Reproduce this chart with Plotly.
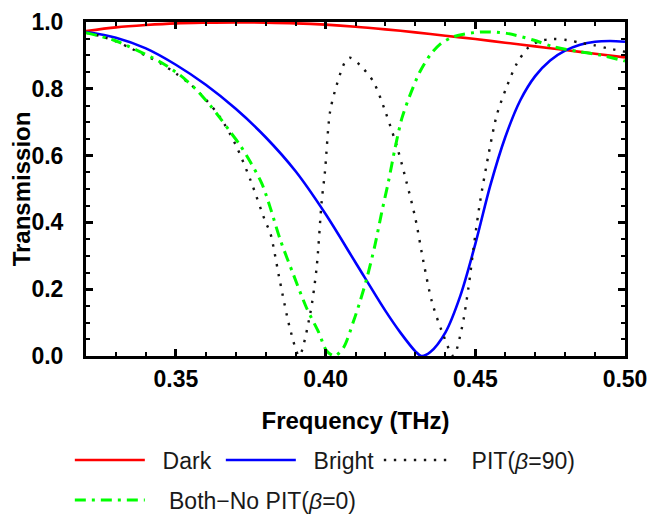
import plotly.graph_objects as go

# ---- data ----
dark_f = [0.32, 0.33, 0.34, 0.35, 0.36, 0.37, 0.38, 0.39, 0.40, 0.41, 0.42, 0.43, 0.44, 0.45, 0.46, 0.47, 0.48, 0.49, 0.50]
dark_t = [0.973, 0.984, 0.991, 0.996, 0.998, 0.999, 0.998, 0.996, 0.992, 0.986, 0.978, 0.969, 0.959, 0.949, 0.938, 0.927, 0.916, 0.905, 0.894]

bright_f = [0.32, 0.33, 0.34, 0.35, 0.36, 0.37, 0.38, 0.39, 0.40, 0.41, 0.42, 0.425, 0.43, 0.432, 0.435,
            0.44, 0.445, 0.45, 0.455, 0.46, 0.465, 0.47, 0.475, 0.48, 0.485, 0.49, 0.495, 0.50]
bright_t = [0.970, 0.953, 0.921, 0.872, 0.812, 0.740, 0.655, 0.553, 0.425, 0.280, 0.135, 0.070, 0.014, 0.0, 0.012,
            0.070, 0.180, 0.335, 0.510, 0.655, 0.765, 0.838, 0.885, 0.914, 0.932, 0.941, 0.943, 0.941]

pit_f = [0.32, 0.325, 0.33, 0.335, 0.34, 0.345, 0.35, 0.355, 0.36, 0.365, 0.37, 0.375, 0.38, 0.3815, 0.3848,
         0.3881, 0.3912, 0.3948, 0.397, 0.3987, 0.3998, 0.4015, 0.4037, 0.4065, 0.4082, 0.4115, 0.416, 0.42,
         0.424, 0.427, 0.43, 0.4327, 0.4355, 0.4388, 0.4427, 0.4455, 0.4477, 0.4494, 0.4516, 0.4544, 0.4572,
         0.4605, 0.4639, 0.4678, 0.4716, 0.4761, 0.4806, 0.485, 0.4895, 0.4939, 0.50]
pit_t = [0.968, 0.957, 0.942, 0.921, 0.899, 0.876, 0.846, 0.812, 0.768, 0.712, 0.632, 0.525, 0.400, 0.370, 0.222,
         0.083, 0.0, 0.123, 0.263, 0.462, 0.552, 0.731, 0.811, 0.880, 0.893, 0.871, 0.821, 0.731,
         0.622, 0.522, 0.412, 0.282, 0.163, 0.075, 0.0, 0.083, 0.203, 0.322, 0.462, 0.602, 0.722,
         0.806, 0.876, 0.924, 0.943, 0.949, 0.946, 0.938, 0.931, 0.922, 0.911]

both_f = [0.32, 0.3291, 0.3369, 0.3447, 0.3514, 0.357, 0.3614, 0.3648, 0.3681, 0.3714, 0.3748, 0.3787, 0.3815,
          0.3848, 0.3893, 0.3937, 0.3976, 0.4004, 0.403, 0.406, 0.4093, 0.4115, 0.4138, 0.4165, 0.4188, 0.421,
          0.4232, 0.4255, 0.4282, 0.4315, 0.4349, 0.4382, 0.4427, 0.4516, 0.4605, 0.4694, 0.4761, 0.485, 0.4917, 0.50]
both_t = [0.968, 0.946, 0.916, 0.881, 0.841, 0.796, 0.751, 0.712, 0.672, 0.632, 0.582, 0.517, 0.445,
          0.350, 0.243, 0.143, 0.073, 0.015, 0.0, 0.025, 0.103, 0.163, 0.233, 0.332, 0.432, 0.522,
          0.622, 0.712, 0.781, 0.851, 0.901, 0.933, 0.956, 0.970, 0.966, 0.946, 0.926, 0.911, 0.901, 0.883]

x_ticks = [0.35, 0.40, 0.45, 0.50]
x_labels = ["0.35", "0.40", "0.45", "0.50"]
y_ticks = [0.0, 0.2, 0.4, 0.6, 0.8, 1.0]
y_labels = ["0.0", "0.2", "0.4", "0.6", "0.8", "1.0"]

NB = "\u00a0"
FONT = "Liberation Sans, Arial, sans-serif"

fig = go.Figure()
fig.add_trace(go.Scatter(x=dark_f, y=dark_t, mode="lines", name=NB * 2 + "Dark", legend="legend",
                         legendwidth=66,
                         line=dict(color="rgb(255,0,0)", width=2.6, shape="spline", smoothing=0.9)))
fig.add_trace(go.Scatter(x=bright_f, y=bright_t, mode="lines", name=NB * 2 + "Bright", legend="legend",
                         legendwidth=73,
                         line=dict(color="rgb(0,0,255)", width=2.6, shape="spline", smoothing=0.9)))
fig.add_trace(go.Scatter(x=pit_f, y=pit_t, mode="lines", name=NB * 2 + "PIT(<i>β</i>=90)", legend="legend",
                         legendwidth=125,
                         line=dict(color="rgb(20,20,20)", width=2.4, dash="2.4px,7.6px", shape="spline", smoothing=0.8)))
fig.add_trace(go.Scatter(x=both_f, y=both_t, mode="lines", name=NB * 3 + "Both\u2212No PIT(<i>β</i>=0)", legend="legend2",
                         line=dict(color="rgb(0,255,0)", width=3, dash="11px,6px,3px,6px", shape="spline", smoothing=0.8)))

axis_common = dict(
    showline=True, linecolor="black", linewidth=3, mirror="allticks",
    ticks="inside", ticklen=7, tickwidth=2.5, tickcolor="black",
    showgrid=False, zeroline=False,
    tickfont=dict(family=FONT, size=23, color="black", weight="bold"),
)

fig.update_xaxes(
    range=[0.32, 0.50], tickvals=x_ticks, ticktext=x_labels,
    minor=dict(dtick=0.01, tick0=0.32, ticks="inside", ticklen=4, tickwidth=2, tickcolor="black", showgrid=False),
    title=dict(text="<b>Frequency (THz)</b>", standoff=22, font=dict(family=FONT, size=24, color="black")),
    ticklabelstandoff=0,
    **axis_common,
)
fig.update_yaxes(
    range=[0.0, 1.0], tickvals=y_ticks, ticktext=y_labels,
    minor=dict(dtick=0.05, tick0=0.0, ticks="inside", ticklen=4, tickwidth=2, tickcolor="black", showgrid=False),
    ticklabelstandoff=15,
    **axis_common,
)

fig.add_annotation(text="<b>Transmission</b>", textangle=-90, xref="paper", yref="paper",
                   x=-0.12, y=0.5, xanchor="center", yanchor="middle", showarrow=False,
                   font=dict(family=FONT, size=24, color="black"))

legend_common = dict(orientation="h", x=-0.03, xanchor="left", yanchor="top",
                     font=dict(family=FONT, size=23, color="rgb(25,25,25)"),
                     itemwidth=70, bgcolor="rgba(0,0,0,0)", tracegroupgap=0)

fig.update_layout(
    width=652, height=518,
    margin=dict(l=86, r=27, t=22, b=162, autoexpand=False),
    paper_bgcolor="white", plot_bgcolor="white",
    showlegend=True,
    legend=dict(y=-0.247, **legend_common),
    legend2=dict(y=-0.367, **legend_common),
)

fig.write_html("out.html")
